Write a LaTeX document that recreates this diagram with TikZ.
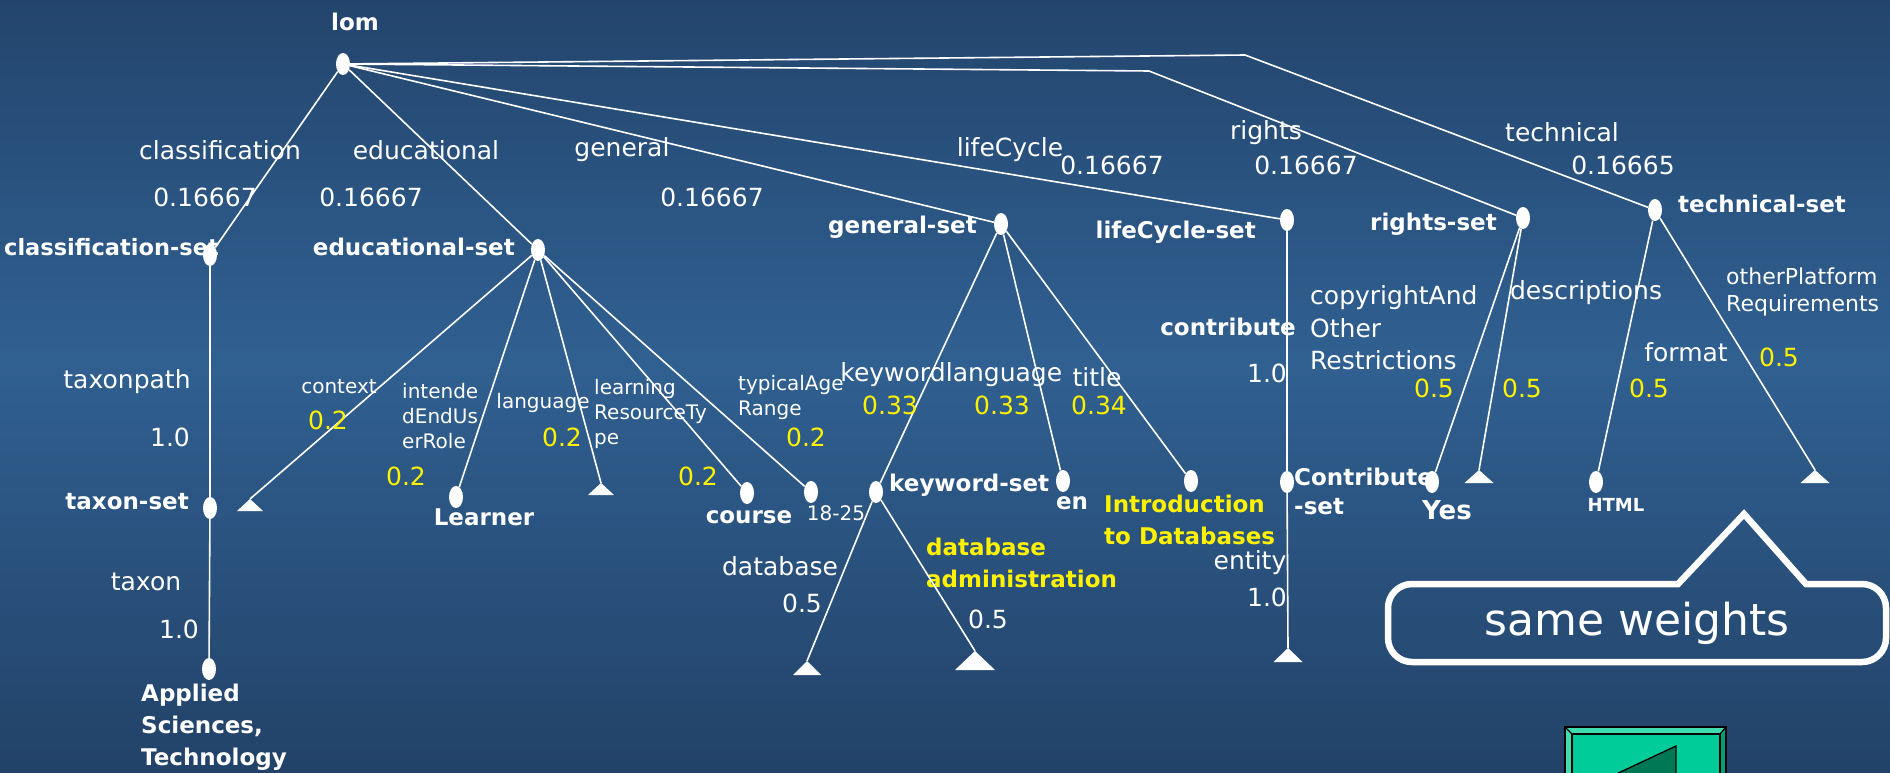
\documentclass[tikz,border=0pt]{standalone}
\usepackage{fontspec}
\setmainfont{DejaVu Sans}
\usetikzlibrary{shapes.geometric}
\definecolor{bgtop}{RGB}{35,69,109}
\definecolor{bgmid}{RGB}{48,96,145}
\definecolor{bgbot}{RGB}{34,66,104}
\definecolor{btnface}{RGB}{0,204,153}
\definecolor{btnlight}{RGB}{64,220,176}
\definecolor{btndark}{RGB}{0,160,118}
\definecolor{btntri}{RGB}{0,119,85}
\begin{document}
\begin{tikzpicture}[x=1pt,y=-1pt,
  link/.style={white, line width=1.6pt},
  leaf/.style={ellipse, fill=white, minimum width=14pt, minimum height=22pt, inner sep=0pt},
  setlbl/.style={text=white, font=\bfseries\fontsize{23}{29}\selectfont, inner sep=0pt, align=left},
  elbl/.style={text=white, font=\fontsize{25}{32.5}\selectfont, inner sep=0pt, align=left},
  slbl/.style={text=white, font=\fontsize{20}{25}\selectfont, inner sep=0pt, align=left},
  wt/.style={text=yellow, font=\fontsize{25}{31}\selectfont, inner sep=0pt},
  ylbl/.style={text=yellow, font=\bfseries\fontsize{23}{32}\selectfont, inner sep=0pt, align=left},
  tri/.style={fill=white},
  callout/.style={draw=white, line width=6.5pt, line join=miter},
]
\useasboundingbox (0,0) rectangle (1890,773);
\clip (0,0) rectangle (1890,773);

% background gradient
\shade[top color=bgtop, bottom color=bgmid] (0,0) rectangle (1890,361);
\shade[top color=bgmid, bottom color=bgbot] (0,360) rectangle (1890,773);

% set labels
\node[setlbl] (lomlbl) at (355,22) {lom};
\node[setlbl, anchor=east, font=\bfseries\fontsize{22.5}{29}\selectfont] (clslbl) at (219,247) {classification-set};
\node[setlbl, anchor=east] (edulbl) at (515,247) {educational-set};
\node[setlbl, anchor=east] (genlbl) at (977,227) {general-set};
\node[setlbl, anchor=east] (lclbl) at (1256,232) {lifeCycle-set};
\node[setlbl, anchor=east] (rtlbl) at (1497,224) {rights-set};
\node[setlbl, anchor=west] (tclbl) at (1678,204) {technical-set};
\node[setlbl, anchor=east] (taxlbl) at (189,502) {taxon-set};
\node[setlbl, anchor=west, font=\bfseries\fontsize{23}{32}\selectfont] (appllbl) at (141,727) {Applied\\Sciences,\\Technology};
\node[setlbl] (learnerlbl) at (484,517) {Learner};
\node[setlbl] (courselbl) at (749,517) {course};
\node[slbl] (agelbl) at (836,513) {18-25};
\node[setlbl, anchor=west] (kwlbl) at (889,485) {keyword-set};
\node[setlbl] (enlbl) at (1072,503) {en};
\node[ylbl, anchor=west] (introlbl) at (1104,520) {Introduction\\to Databases};
\node[ylbl, anchor=west] (admlbl) at (926,563) {database\\administration};
\node[setlbl, anchor=east] (ctblbl) at (1296,327) {contribute};
\node[setlbl, anchor=west] (ctbsetlbl) at (1294,491) {Contribute\\-set};
\node[setlbl, font=\bfseries\fontsize{26}{30}\selectfont] (yeslbl) at (1447,510) {Yes};
\node[setlbl, font=\bfseries\fontsize{18}{22}\selectfont] (htmllbl) at (1616,505) {HTML};

% tree nodes
\node[leaf] (lom) at (343,64) {};
\node[leaf] (clsset) at (210,255) {};
\node[leaf] (eduset) at (538,250) {};
\node[leaf] (genset) at (1001,224) {};
\node[leaf] (lcset) at (1287,220) {};
\node[leaf] (rtset) at (1523,218) {};
\node[leaf] (tcset) at (1655,210) {};
\node[leaf] (taxset) at (210,508) {};
\node[leaf] (appl) at (209,669) {};
\node[leaf] (learner) at (456,497) {};
\node[leaf] (course) at (747,493) {};
\node[leaf] (age) at (811,492) {};
\node[leaf] (kwset) at (876,492) {};
\node[leaf] (en) at (1063,481) {};
\node[leaf] (intro) at (1191,481) {};
\node[leaf] (ctbset) at (1287,482) {};
\node[leaf] (yes) at (1432,482) {};
\node[leaf] (html) at (1596,482) {};

% empty subtrees (triangles, apex coordinates)
\coordinate (ctxT) at (250,499);
\coordinate (elangT) at (601,483);
\coordinate (dbT) at (807,661);
\coordinate (admT) at (975,651);
\coordinate (entT) at (1288,648);
\coordinate (descT) at (1479,470);
\coordinate (optT) at (1815,470);
\fill[tri] (ctxT) -- ++(13,12) -- ++(-26,0) -- cycle;
\fill[tri] (elangT) -- ++(13,12) -- ++(-26,0) -- cycle;
\fill[tri] (dbT) -- ++(14,14) -- ++(-28,0) -- cycle;
\fill[tri] (admT) -- ++(20,19) -- ++(-40,0) -- cycle;
\fill[tri] (entT) -- ++(14.5,14) -- ++(-29,0) -- cycle;
\fill[tri] (descT) -- ++(14.5,13) -- ++(-29,0) -- cycle;
\fill[tri] (optT) -- ++(14.5,13) -- ++(-29,0) -- cycle;

% bends of the two long branches
\coordinate (bendR) at (1149,71);
\coordinate (bendT) at (1245,55);

% connectors
\draw[link] (lom) -- (clsset);
\draw[link] (lom) -- (eduset);
\draw[link] (lom) -- (genset);
\draw[link] (lom) -- (lcset);
\draw[link] (lom) -- (bendR) -- (rtset);
\draw[link] (lom) -- (bendT) -- (tcset);
\draw[link] (clsset) -- (taxset) -- (appl);
\draw[link] (eduset) -- (ctxT);
\draw[link] (eduset) -- (learner);
\draw[link] (eduset) -- (elangT);
\draw[link] (eduset) -- (course);
\draw[link] (eduset) -- (age);
\draw[link] (genset) -- (kwset);
\draw[link] (genset) -- (en);
\draw[link] (genset) -- (intro);
\draw[link] (kwset) -- (dbT);
\draw[link] (kwset) -- (admT);
\draw[link] (lcset) -- (ctbset) -- (entT);
\draw[link] (rtset) -- (yes);
\draw[link] (rtset) -- (descT);
\draw[link] (tcset) -- (html);
\draw[link] (tcset) -- (optT);

% labels of the top-level branches
\node[elbl] (l1) at (220,150) {classification};
\node[elbl] (w1) at (205,197) {0.16667};
\node[elbl] (l2) at (426,150) {educational};
\node[elbl] (w2) at (371,197) {0.16667};
\node[elbl] (l3) at (622,150) {general};
\node[elbl] (w3) at (712,197) {0.16667};
\node[elbl] (l4) at (1010,150) {lifeCycle};
\node[elbl] (w4) at (1112,165) {0.16667};
\node[elbl] (l5) at (1266,133) {rights};
\node[elbl] (w5) at (1306,165) {0.16667};
\node[elbl] (l6) at (1562,132) {technical};
\node[elbl] (w6) at (1623,165) {0.16665};

% classification branch
\node[elbl] (l7) at (127,382) {taxonpath};
\node[elbl] (w7) at (170,437) {1.0};
\node[elbl] (l8) at (146,582) {taxon};
\node[elbl] (w8) at (179,629) {1.0};

% educational branch
\node[slbl] (l9) at (339,387) {context};
\node[wt] (w9) at (328,420) {0.2};
\node[slbl, anchor=west] (l10) at (402,416) {intende\\dEndUs\\erRole};
\node[wt] (w10) at (406,476) {0.2};
\node[slbl] (l11) at (543,403) {language};
\node[wt] (w11) at (562,437) {0.2};
\node[slbl, anchor=west] (l12) at (594,414) {learning\\ResourceTy\\pe};
\node[wt] (w12) at (698,476) {0.2};
\node[slbl, anchor=west] (l13) at (738,397) {typicalAge\\Range};
\node[wt] (w13) at (806,437) {0.2};

% general branch
\node[elbl] (l14) at (893,375) {keyword};
\node[wt] (w14) at (890,405) {0.33};
\node[elbl] (l15) at (1004,375) {language};
\node[wt] (w15) at (1002,405) {0.33};
\node[elbl] (l16) at (1097,377) {title};
\node[wt] (w16) at (1099,405) {0.34};
\node[elbl] (l17) at (780,566) {database};
\node[elbl] (w17) at (802,603) {0.5};
\node[elbl] (w18) at (988,619) {0.5};

% lifeCycle branch
\node[elbl] (w19) at (1267,373) {1.0};
\node[elbl] (l20) at (1250,563) {entity};
\node[elbl] (w20) at (1267,597) {1.0};

% rights branch
\node[elbl, anchor=west] (l21) at (1310,328) {copyrightAnd\\Other\\Restrictions};
\node[wt] (w21) at (1434,388) {0.5};
\node[elbl] (l22) at (1586,293) {descriptions};
\node[wt] (w22) at (1522,388) {0.5};

% technical branch
\node[elbl] (l23) at (1686,352) {format};
\node[wt] (w23) at (1649,388) {0.5};
\node[elbl, anchor=west, font=\fontsize{22}{27}\selectfont] (l24) at (1726,292) {otherPlatform\\Requirements};
\node[wt] (w24) at (1779,357) {0.5};

% callout
\draw[callout] (1412,584) -- (1678,584) -- (1744,514) -- (1806,584) -- (1862,584)
  arc[start angle=-90, end angle=0, radius=24] -- (1886,638)
  arc[start angle=0, end angle=90, radius=24] -- (1412,662)
  arc[start angle=90, end angle=180, radius=24] -- (1388,608)
  arc[start angle=180, end angle=270, radius=24] -- cycle;
\node[text=white, font=\fontsize{44}{50}\selectfont, inner sep=0pt] (same) at (1637,623) {same weights};

% navigation button
\fill[btnface] (1565,727) rectangle (1726,800);
\fill[btnlight] (1565,727) -- (1726,727) -- (1720,734) -- (1572,734) -- cycle;
\fill[btnlight] (1565,727) -- (1572,734) -- (1572,800) -- (1565,800) -- cycle;
\fill[btndark] (1726,727) -- (1720,734) -- (1720,800) -- (1726,800) -- cycle;
\draw[black, line width=1.3pt] (1565,727) rectangle (1726,800);
\draw[black, line width=1.3pt] (1572,734) rectangle (1720,800);
\draw[black, line width=1.3pt] (1565,727) -- (1572,734) (1726,727) -- (1720,734);
\filldraw[fill=btntri, draw=black, line width=1.3pt] (1676,746) -- (1676,834) -- (1582,790) -- cycle;
\end{tikzpicture}
\end{document}
